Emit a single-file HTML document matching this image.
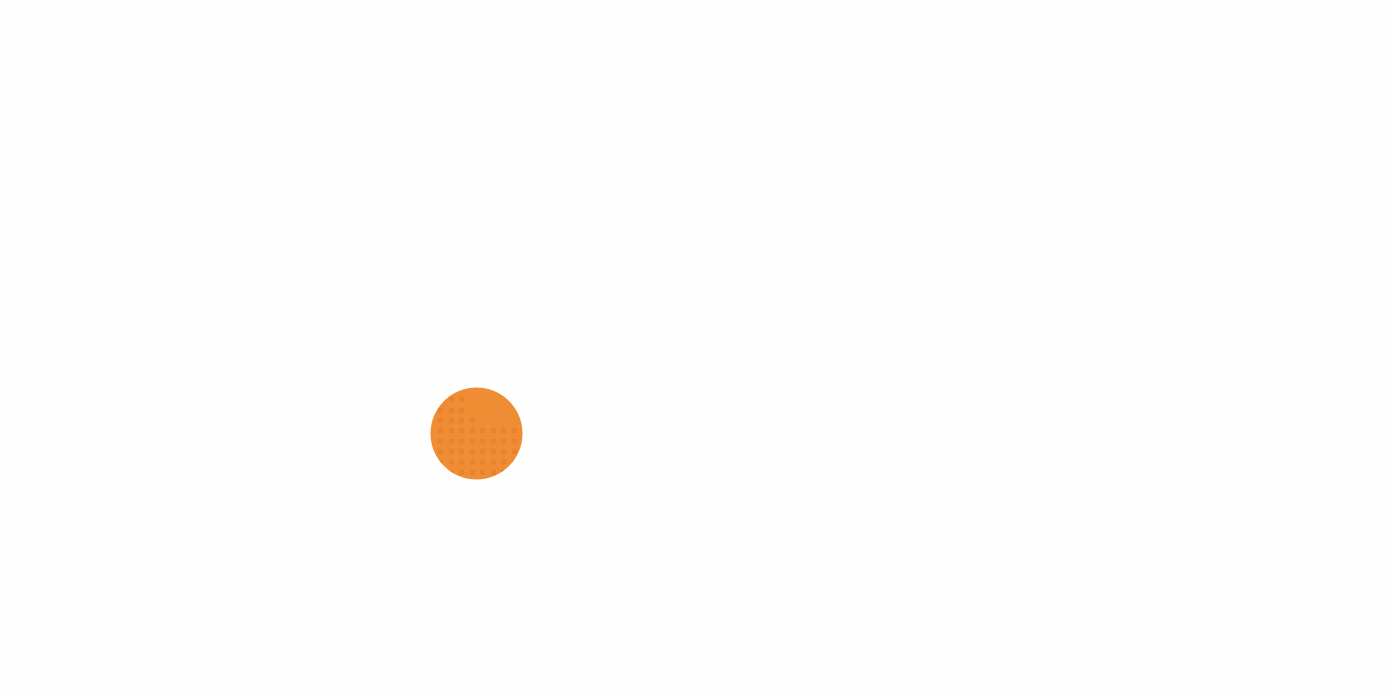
<!DOCTYPE html>
<html><head><style>
html,body{margin:0;padding:0;background:#fefefe;width:1394px;height:695px;overflow:hidden}
</style></head><body>
<svg width="1394" height="695" xmlns="http://www.w3.org/2000/svg">
<defs><clipPath id="c"><circle cx="476.5" cy="433.5" r="46"/></clipPath></defs>
<circle cx="476.5" cy="433.5" r="46" fill="#f08c33"/>
<g clip-path="url(#c)" fill="#e6832f">
<rect x="449" y="397" width="5" height="5"/><rect x="459" y="397" width="5" height="5"/>
<rect x="438" y="408" width="5" height="5"/><rect x="449" y="408" width="5" height="5"/><rect x="459" y="408" width="5" height="5"/>
<rect x="438" y="418" width="5" height="5"/><rect x="449" y="418" width="5" height="5"/><rect x="459" y="418" width="5" height="5"/><rect x="470" y="418" width="5" height="5"/>
<g id="r"><rect x="438" y="428" width="5" height="5"/><rect x="449" y="428" width="5" height="5"/><rect x="459" y="428" width="5" height="5"/><rect x="470" y="428" width="5" height="5"/><rect x="480" y="428" width="5" height="5"/><rect x="491" y="428" width="5" height="5"/><rect x="501" y="428" width="5" height="5"/><rect x="512" y="428" width="5" height="5"/></g>
<use href="#r" y="10.5"/><use href="#r" y="21"/><use href="#r" y="31.5"/><use href="#r" y="42"/>
</g>
</svg>
</body></html>
